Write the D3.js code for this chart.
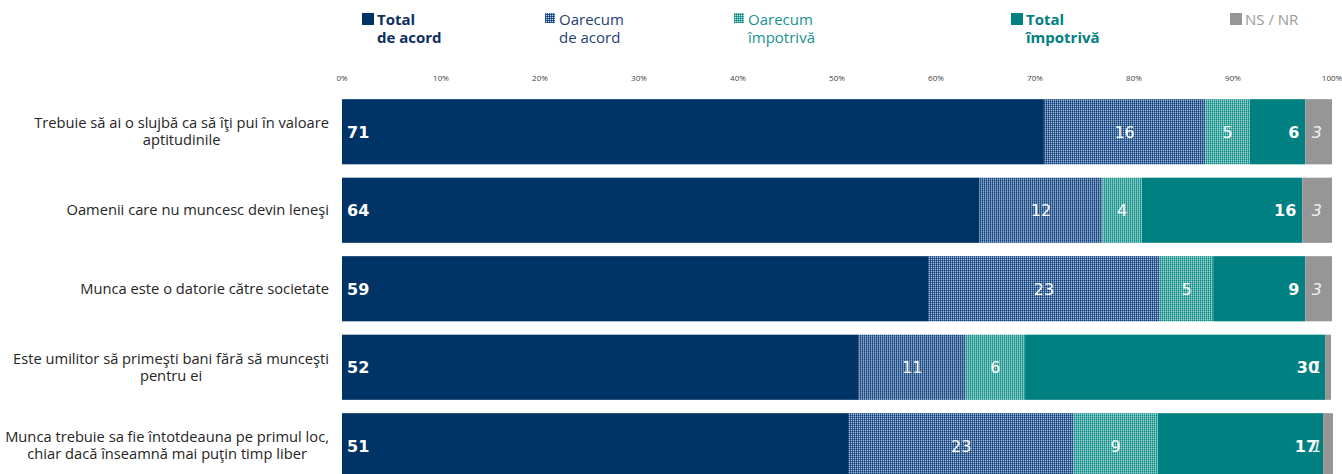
<!DOCTYPE html>
<meta charset="utf-8">
<style>
  body { margin: 0; background: #fff; }
  text { font-family: "Open Sans", "DejaVu Sans", sans-serif; }
  .num { font-family: "DejaVu Sans", "Open Sans", sans-serif; }
</style>
<script src="https://d3js.org/d3.v7.min.js"></script>
<div id="chart"></div>
<script>
// categories and series (percent)
var categories = [
  "Trebuie să ai o slujbă ca să îţi pui în valoare\naptitudinile",
  "Oamenii care nu muncesc devin leneşi",
  "Munca este o datorie către societate",
  "Este umilitor să primeşti bani fără să munceşti\npentru ei",
  "Munca trebuie sa fie întotdeauna pe primul loc,\nchiar dacă înseamnă mai puţin timp liber"
];
var totalAcord       = [70.9, 64.4, 59.2, 52.2, 51.2];
var oarecumAcord     = [16.3, 12.4, 23.4, 10.8, 22.7];
var oarecumImpotriva = [4.5, 4.0, 5.4, 6.0, 8.5];
var totalImpotriva   = [5.6, 16.2, 9.3, 30.3, 16.7];
var nsnr             = [2.7, 3.0, 2.7, 0.6, 1.0];
var tickValues = [0, 10, 20, 30, 40, 50, 60, 70, 80, 90, 100];
var seriesNames = [["Total", "de acord"], ["Oarecum", "de acord"], ["Oarecum", "împotrivă"], ["Total", "împotrivă"], ["NS / NR"]];

var width = 1342, height = 474;

var svg = d3.select("#chart").append("svg")
  .attr("width", width)
  .attr("height", height);

var defs = svg.append("defs");

// dotted fill like the office "small grid" patterns
function makePattern(id, base, mid, light) {
  var p = defs.append("pattern")
    .attr("id", id)
    .attr("patternUnits", "userSpaceOnUse")
    .attr("width", 2).attr("height", 2);
  p.append("rect").attr("width", 2).attr("height", 2).attr("fill", base);
  p.append("rect").attr("x", 1).attr("y", 0).attr("width", 1).attr("height", 2).attr("fill", mid);
  p.append("rect").attr("x", 0).attr("y", 1).attr("width", 2).attr("height", 1).attr("fill", mid);
  p.append("rect").attr("x", 1).attr("y", 1).attr("width", 1).attr("height", 1).attr("fill", light);
}
makePattern("patAcord", "#06386c", "#3f689e", "#b3c8e2");
makePattern("patImp", "#0a8680", "#45aaa5", "#b5e0dc");

var fills = ["#003366", "url(#patAcord)", "url(#patImp)", "#008080", "#969696"];
var legendTextColors = ["#0d2f5f", "#1f3f73", "#1a9090", "#008080", "#999999"];

var x = d3.scaleLinear().domain([0, 100]).range([342, 1332]);
var y = d3.scaleBand()
  .domain(d3.range(categories.length))
  .range([92.5, 485])
  .paddingInner(0.17)
  .paddingOuter(0.085);

// axis tick labels
svg.append("g").selectAll("text")
  .data(tickValues)
  .enter().append("text")
  .attr("x", function(d) { return x(d); })
  .attr("y", 81)
  .attr("text-anchor", "middle")
  .style("font-size", "8px")
  .attr("fill", "#404040")
  .text(function(d) { return d + "%"; });

// stacked rows
var rows = categories.map(function(c, i) {
  return [totalAcord[i], oarecumAcord[i], oarecumImpotriva[i], totalImpotriva[i], nsnr[i]];
});

var rowG = svg.append("g").selectAll("g")
  .data(rows)
  .enter().append("g")
  .attr("transform", function(d, i) { return "translate(0," + y(i) + ")"; });

rowG.each(function(vals, i) {
  var g = d3.select(this);
  var acc = 0;
  var bw = y.bandwidth();
  vals.forEach(function(v, k) {
    var x0 = x(acc), x1 = x(acc + v);
    g.append("rect")
      .attr("x", x0)
      .attr("y", 0)
      .attr("width", x1 - x0)
      .attr("height", bw)
      .attr("fill", fills[k]);

    var label = g.append("text")
      .attr("class", "num")
      .attr("y", bw / 2)
      .attr("dy", "0.36em")
      .attr("fill", "#fff")
      .style("font-size", "16px")
      .text(Math.round(v));
    if (k === 0) {
      label.attr("x", x0 + 5).style("font-weight", "bold");
    } else if (k === 1 || k === 2) {
      label.attr("x", (x0 + x1) / 2).attr("text-anchor", "middle");
    } else if (k === 3) {
      label.attr("x", x1 - 6).attr("text-anchor", "end").style("font-weight", "bold");
    } else {
      label.attr("x", x(100) - 10).attr("text-anchor", "end")
        .style("font-style", "italic").attr("fill", "#f2f2f2");
    }
    acc += v;
  });
});

// category labels: lines centered, block right-aligned at 329
var catG = svg.append("g");
categories.forEach(function(c, i) {
  var lines = c.split("\n");
  var t = catG.append("text")
    .style("font-size", "14.7px")
    .attr("fill", "#262626");
  var cy = y(i) + y.bandwidth() / 2;
  var lh = 17;
  lines.forEach(function(l, j) {
    t.append("tspan")
      .attr("y", cy + (j - (lines.length - 1) / 2) * lh)
      .attr("dy", "0.35em")
      .text(l);
  });
  var maxW = 0;
  t.selectAll("tspan").each(function() {
    maxW = Math.max(maxW, this.getComputedTextLength());
  });
  var cx = 329 - maxW / 2;
  t.attr("text-anchor", "middle").selectAll("tspan").attr("x", cx);
});

// legend
var legendX = [362, 545, 734, 1011, 1230];
var legend = svg.append("g").selectAll("g")
  .data(seriesNames)
  .enter().append("g")
  .attr("transform", function(d, i) { return "translate(" + legendX[i] + ",0)"; });

legend.append("rect")
  .attr("x", 0).attr("y", 13)
  .attr("width", function(d, i) { return (i === 1 || i === 2) ? 10 : 12; })
  .attr("height", function(d, i) { return (i === 1 || i === 2) ? 10 : 12; })
  .attr("fill", function(d, i) { return fills[i]; });

legend.each(function(d, i) {
  var t = d3.select(this).append("text")
    .attr("fill", legendTextColors[i])
    .style("font-size", "15px")
    .style("font-weight", (i === 0 || i === 3) ? "bold" : "normal");
  d.forEach(function(l, j) {
    t.append("tspan")
      .attr("x", (i === 1 || i === 2) ? 14 : 15)
      .attr("y", 25 + j * 18)
      .text(l);
  });
});
</script>
